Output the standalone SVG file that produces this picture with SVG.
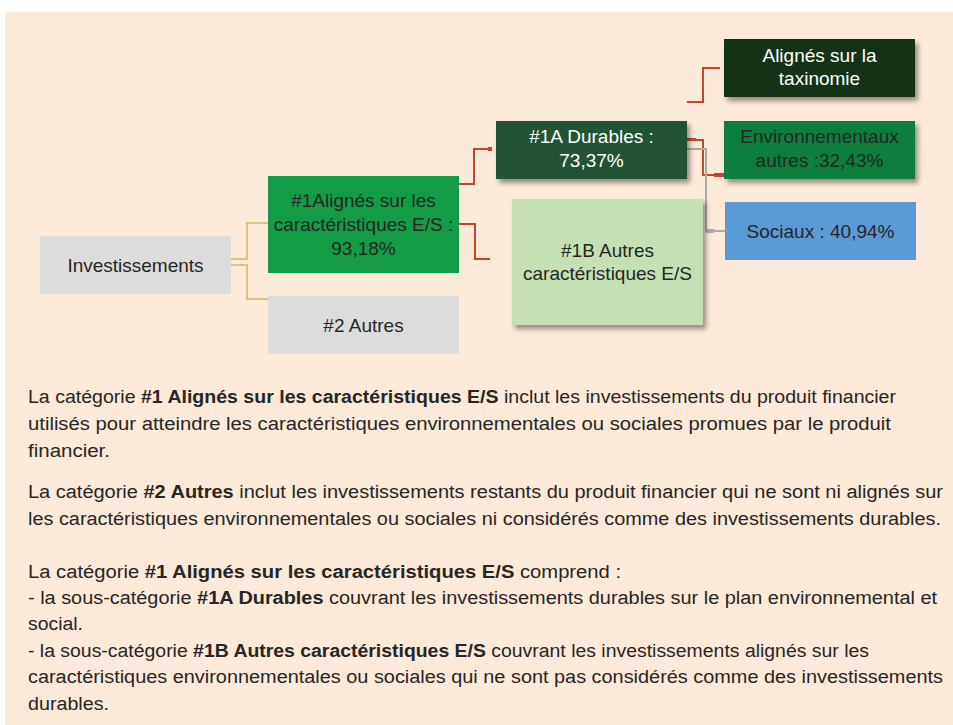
<svg xmlns="http://www.w3.org/2000/svg" width="953" height="725" viewBox="0 0 953 725">
<style>
.t{font-family:"Liberation Sans",Arial,sans-serif;font-size:19px;fill:#262626;text-anchor:middle}
.w{fill:#ffffff}
.p{font-family:"Liberation Sans",Arial,sans-serif;font-size:18px;fill:#262626}
.b{font-weight:bold}
.red{fill:none;stroke:#c8452c;stroke-width:2}
.yel{fill:none;stroke:#d5c67c;stroke-width:2}
.gry{fill:none;stroke:#a9a9a9;stroke-width:2}
</style>
<defs>
<filter id="sh" x="-10%" y="-10%" width="130%" height="140%">
<feDropShadow dx="3" dy="4" stdDeviation="2.5" flood-color="#000" flood-opacity="0.4"/>
</filter>
</defs>
<rect x="5" y="12" width="948" height="713" fill="#fbe9d9"/>
<g id="connectors">
<polyline class="yel" points="231,259 247,259 247,223 268,223"/>
<polyline class="yel" points="231,265 247,265 247,299 268,299"/>
<polyline class="red" points="459,184 474,184 474,149 491,149"/>
<rect x="488" y="147" width="4" height="4" fill="#c8452c"/>
<polyline class="red" points="459,224 475,224 475,259 490,259"/>
<polyline class="red" points="687,102 703,102 703,68 720,68"/>
<polyline class="red" points="687,140 703,140 703,175 724,175"/>
<rect x="687" y="138" width="9" height="3" fill="#c8452c"/>
<rect x="714" y="173" width="10" height="4" fill="#c8452c"/>
<polyline class="gry" points="687,149 706,149 706,231 725,231"/>
<rect x="706" y="229" width="8" height="4" fill="#a9a9a9"/>
</g>
<g id="investissements">
<rect x="40" y="236" width="191" height="58" fill="#dcdcdd"/>
<text class="t" x="135.5" y="272">Investissements</text>
</g>
<g id="n1">
<rect x="268" y="176" width="191" height="97" fill="#149b48"/>
<text class="t" x="363.5" y="207">#1Alignés sur les</text>
<text class="t" x="363.5" y="231">caractéristiques E/S :</text>
<text class="t" x="363.5" y="255">93,18%</text>
</g>
<g id="n2">
<rect x="268" y="296" width="191" height="58" fill="#dcdcdd"/>
<text class="t" x="363.5" y="332">#2 Autres</text>
</g>
<g id="n1a">
<rect x="496" y="121" width="191" height="58" fill="#215235" filter="url(#sh)"/>
<text class="t w" x="591.5" y="143">#1A Durables :</text>
<text class="t w" x="591.5" y="167">73,37%</text>
</g>
<g id="n1b">
<rect x="512" y="199" width="191" height="126" fill="#c5e0b4" filter="url(#sh)"/>
<text class="t" x="607.5" y="257">#1B Autres</text>
<text class="t" x="607.5" y="280">caractéristiques E/S</text>
</g>
<g id="taxo">
<rect x="724" y="39" width="191" height="58" fill="#133118" filter="url(#sh)"/>
<text class="t w" x="819.5" y="62">Alignés sur la</text>
<text class="t w" x="819.5" y="85">taxinomie</text>
</g>
<g id="env">
<rect x="724" y="121" width="191" height="58" fill="#0f7e3e" filter="url(#sh)"/>
<text class="t" x="819.5" y="143" fill="#1f2a22">Environnementaux</text>
<text class="t" x="819.5" y="167">autres :32,43%</text>
</g>
<g id="sociaux">
<rect x="725" y="202" width="191" height="58" fill="#5b9bd5"/>
<text class="t" x="820.5" y="238">Sociaux : 40,94%</text>
</g>
<g id="texte">
<text class="p" x="28" y="403" textLength="868" lengthAdjust="spacingAndGlyphs">La catégorie <tspan class="b">#1 Alignés sur les caractéristiques E/S</tspan> inclut les investissements du produit financier</text>
<text class="p" x="28" y="430" textLength="863" lengthAdjust="spacingAndGlyphs">utilisés pour atteindre les caractéristiques environnementales ou sociales promues par le produit</text>
<text class="p" x="28" y="457" textLength="82" lengthAdjust="spacingAndGlyphs">financier.</text>
<text class="p" x="28" y="498" textLength="915" lengthAdjust="spacingAndGlyphs">La catégorie <tspan class="b">#2 Autres</tspan> inclut les investissements restants du produit financier qui ne sont ni alignés sur</text>
<text class="p" x="28" y="525" textLength="913" lengthAdjust="spacingAndGlyphs">les caractéristiques environnementales ou sociales ni considérés comme des investissements durables.</text>
<text class="p" x="28" y="578" textLength="593" lengthAdjust="spacingAndGlyphs">La catégorie <tspan class="b">#1 Alignés sur les caractéristiques E/S</tspan> comprend :</text>
<text class="p" x="28" y="604" textLength="909" lengthAdjust="spacingAndGlyphs">- la sous-catégorie <tspan class="b">#1A Durables</tspan> couvrant les investissements durables sur le plan environnemental et</text>
<text class="p" x="28" y="630" textLength="55" lengthAdjust="spacingAndGlyphs">social.</text>
<text class="p" x="28" y="657" textLength="841" lengthAdjust="spacingAndGlyphs">- la sous-catégorie <tspan class="b">#1B Autres caractéristiques E/S</tspan> couvrant les investissements alignés sur les</text>
<text class="p" x="28" y="683" textLength="915" lengthAdjust="spacingAndGlyphs">caractéristiques environnementales ou sociales qui ne sont pas considérés comme des investissements</text>
<text class="p" x="28" y="710" textLength="81" lengthAdjust="spacingAndGlyphs">durables.</text>
</g>
</svg>
